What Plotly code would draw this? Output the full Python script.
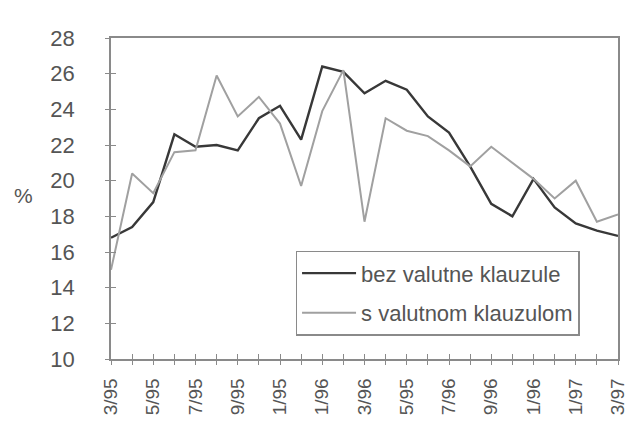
import plotly.graph_objects as go

months = ["3/95", "4/95", "5/95", "6/95", "7/95", "8/95", "9/95", "10/95", "11/95",
          "12/95", "1/96", "2/96", "3/96", "4/96", "5/96", "6/96", "7/96", "8/96",
          "9/96", "10/96", "11/96", "12/96", "1/97", "2/97", "3/97"]
tick_labels = ["3/95", "5/95", "7/95", "9/95", "1/95", "1/96", "3/96", "5/95",
               "7/96", "9/96", "1/96", "1/97", "3/97"]
bez_valutne = [16.8, 17.4, 18.8, 22.6, 21.9, 22.0, 21.7, 23.5, 24.2, 22.3, 26.4, 26.1,
               24.9, 25.6, 25.1, 23.6, 22.7, 20.8, 18.7, 18.0, 20.1, 18.5, 17.6, 17.2, 16.9]
s_valutnom = [15.0, 20.4, 19.3, 21.6, 21.7, 25.9, 23.6, 24.7, 23.2, 19.7, 23.9, 26.2,
              17.7, 23.5, 22.8, 22.5, 21.7, 20.8, 21.9, 21.0, 20.1, 19.0, 20.0, 17.7, 18.1]

x_idx = list(range(len(months)))
tick_idx = x_idx[::2]

FONT = "Liberation Sans, Arial, sans-serif"
TXT = "#555555"
AX = "#8a8a8a"

fig = go.Figure()
fig.add_trace(go.Scatter(x=x_idx, y=bez_valutne, mode="lines", name="bez valutne klauzule",
                         line=dict(color="#383838", width=2.4), legendgroup="a",
                         customdata=months))
fig.add_trace(go.Scatter(x=x_idx, y=s_valutnom, mode="lines", name="s valutnom klauzulom",
                         line=dict(color="#a0a0a0", width=2.0), legendgroup="b",
                         customdata=months))
# overlay axes for the outward halves of the crossing tick marks
fig.add_trace(go.Scatter(x=[None], y=[None], xaxis="x2", yaxis="y2", showlegend=False))

fig.update_layout(
    width=635, height=422,
    margin=dict(l=111, r=7, t=38, b=58),
    paper_bgcolor="white", plot_bgcolor="white",
    font=dict(family=FONT, size=20, color=TXT),
    showlegend=True,
    legend=dict(x=0.364, y=0.337, xanchor="left", yanchor="top",
                bordercolor=AX, borderwidth=1.5, bgcolor="white",
                font=dict(size=22, color=TXT), tracegroupgap=8,
                traceorder="grouped", itemwidth=54),
    xaxis=dict(range=[0, 24], tickmode="array", tickvals=tick_idx, ticktext=tick_labels,
               tickangle=-90, showgrid=False, zeroline=False,
               showline=True, linecolor=AX, linewidth=1.5, mirror=True,
               ticks="inside", ticklen=5, tickcolor=AX, tickwidth=1.2,
               ticklabelstandoff=10, ticklabeloverflow="allow",
               minor=dict(ticks="inside", dtick=1, tick0=0, ticklen=5, tickcolor=AX,
                          tickwidth=1.2, showgrid=False),
               tickfont=dict(size=19, color=TXT)),
    yaxis=dict(range=[10, 28], tickmode="linear", tick0=10, dtick=2, showgrid=False,
               zeroline=False, showline=True, linecolor=AX, linewidth=1.5, mirror=True,
               ticks="inside", ticklen=5, tickcolor=AX, tickwidth=1.2,
               ticklabelstandoff=30, tickfont=dict(size=22, color=TXT)),
    xaxis2=dict(overlaying="x", range=[0, 24], side="bottom", showticklabels=False,
                tickmode="linear", tick0=0, dtick=1, ticks="outside", ticklen=5,
                tickcolor=AX, tickwidth=1.2, showgrid=False, zeroline=False, showline=False),
    yaxis2=dict(overlaying="y", range=[10, 28], side="left", showticklabels=False,
                tickmode="linear", tick0=10, dtick=2, ticks="outside", ticklen=5,
                tickcolor=AX, tickwidth=1.2, showgrid=False, zeroline=False, showline=False),
    annotations=[dict(text="%", xref="paper", yref="paper", x=-0.172, y=0.509,
                      xanchor="center", yanchor="middle", showarrow=False,
                      font=dict(size=21, color=TXT))],
)

fig.write_html("out.html", config={"displayModeBar": False},
               post_script="document.body.style.margin='0';document.body.style.overflow='hidden';")
